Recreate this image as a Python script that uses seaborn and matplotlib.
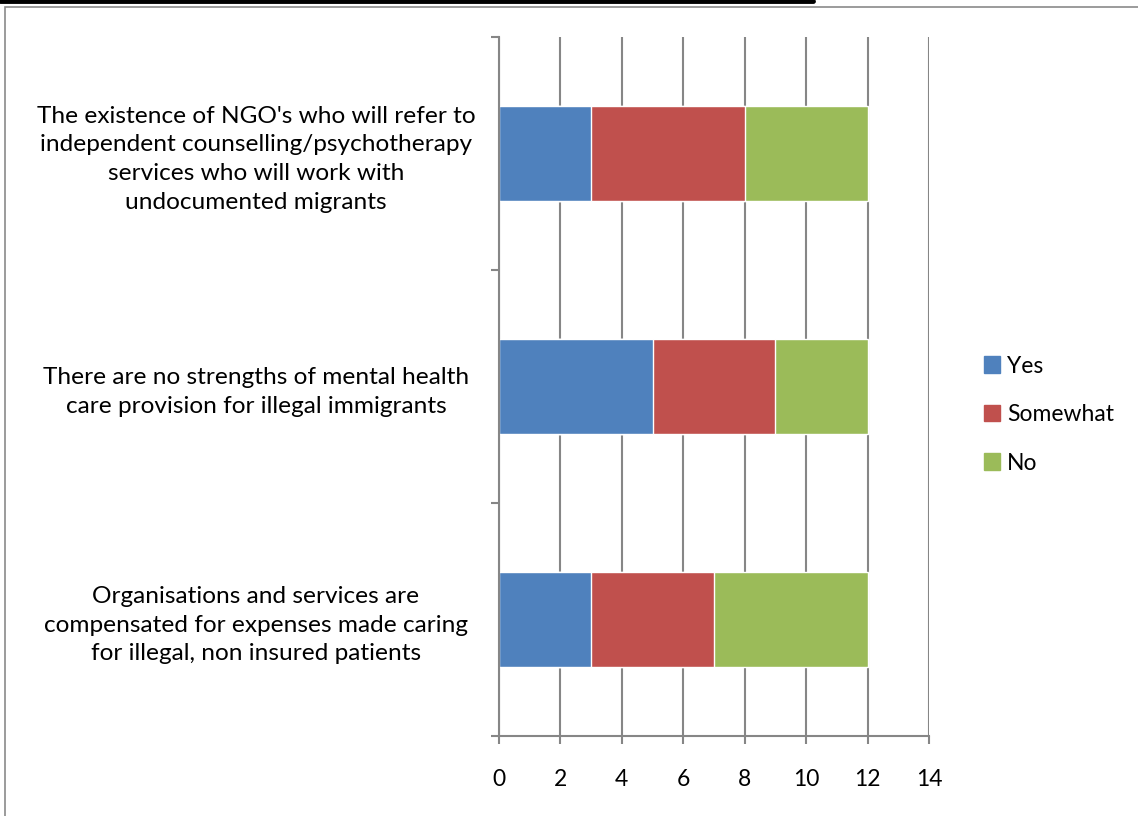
import matplotlib.pyplot as plt
import matplotlib.patches as mpatches
import numpy as np
import seaborn as sns
import pandas as pd

# chart data
categories = [
    "The existence of NGO's who will refer to\nindependent counselling/psychotherapy\nservices who will work with\nundocumented migrants",
    "There are no strengths of mental health\ncare provision for illegal immigrants",
    "Organisations and services are\ncompensated for expenses made caring\nfor illegal, non insured patients",
]
yes = [3, 5, 3]
somewhat = [5, 4, 4]
no = [4, 3, 5]
series = ["Yes", "Somewhat", "No"]
colors = ["#4F81BD", "#C0504D", "#9BBB59"]
xticks = [0, 2, 4, 6, 8, 10, 12, 14]

df = pd.DataFrame({"cat": categories, "Yes": yes, "Somewhat": somewhat, "No": no})
# cumulative ends for the stacked look
df["c_yes"] = df["Yes"]
df["c_some"] = df["Yes"] + df["Somewhat"]
df["c_no"] = df["c_some"] + df["No"]

sns.set_style("white")
plt.rcParams["font.family"] = ["Lato", "DejaVu Sans"]
plt.rcParams["text.color"] = "black"
plt.rcParams["xtick.color"] = "black"
plt.rcParams["ytick.color"] = "black"

fig = plt.figure(figsize=(11.38, 8.16), dpi=100)
ax = fig.add_axes([0.4385, 0.098, 0.3778, 0.8567])

# outer frame and cut-off title underline
fig.patches.append(mpatches.Rectangle((0.0045, -0.02), 1.1, 1.012, transform=fig.transFigure,
                                      fill=False, edgecolor="#8a8a8a", linewidth=1.2))
fig.add_artist(plt.Line2D([0, 0.714], [0.9985, 0.9985], transform=fig.transFigure,
                          color="black", linewidth=3.5))

ax.set_axisbelow(True)
ax.xaxis.grid(True, color="#868686", linewidth=1.5)
for col, c in zip(["c_no", "c_some", "c_yes"], colors[::-1]):
    sns.barplot(data=df, x=col, y="cat", color=c, width=0.405, ax=ax,
                saturation=1, orient="h")

ax.set_xlim(0, 14)
ax.set_ylim(2.5, -0.5)
ax.set_xticks(xticks)
ax.set_xticklabels([str(t) for t in xticks], fontsize=16.5)
ax.set_xlabel("")
ax.set_ylabel("")
ax.set_yticks(range(3))
ax.set_yticklabels(categories, fontsize=17.6, ha="center", multialignment="center",
                   linespacing=1.45)
ax.tick_params(axis="y", which="major", length=0, pad=175)
ax.set_yticks([-0.5, 0.5, 1.5, 2.5], minor=True)
ax.tick_params(axis="y", which="minor", left=True, length=6, width=1.5,
               color="#868686", direction="out")
ax.tick_params(axis="x", bottom=True, length=6, width=1.5, color="#868686",
               direction="out", pad=18)
for s in ["top", "right"]:
    ax.spines[s].set_visible(False)
for s in ["left", "bottom"]:
    ax.spines[s].set_color("#868686")
    ax.spines[s].set_linewidth(1.5)

handles = [mpatches.Patch(color=c, label=s) for s, c in zip(series, colors)]
fig.legend(handles=handles, loc="center left", bbox_to_anchor=(0.857, 0.492),
           frameon=False, fontsize=16.5, handlelength=0.7, handleheight=0.7,
           handletextpad=0.3, labelspacing=1.2, borderaxespad=0)

fig.savefig("out.png", dpi=100)
